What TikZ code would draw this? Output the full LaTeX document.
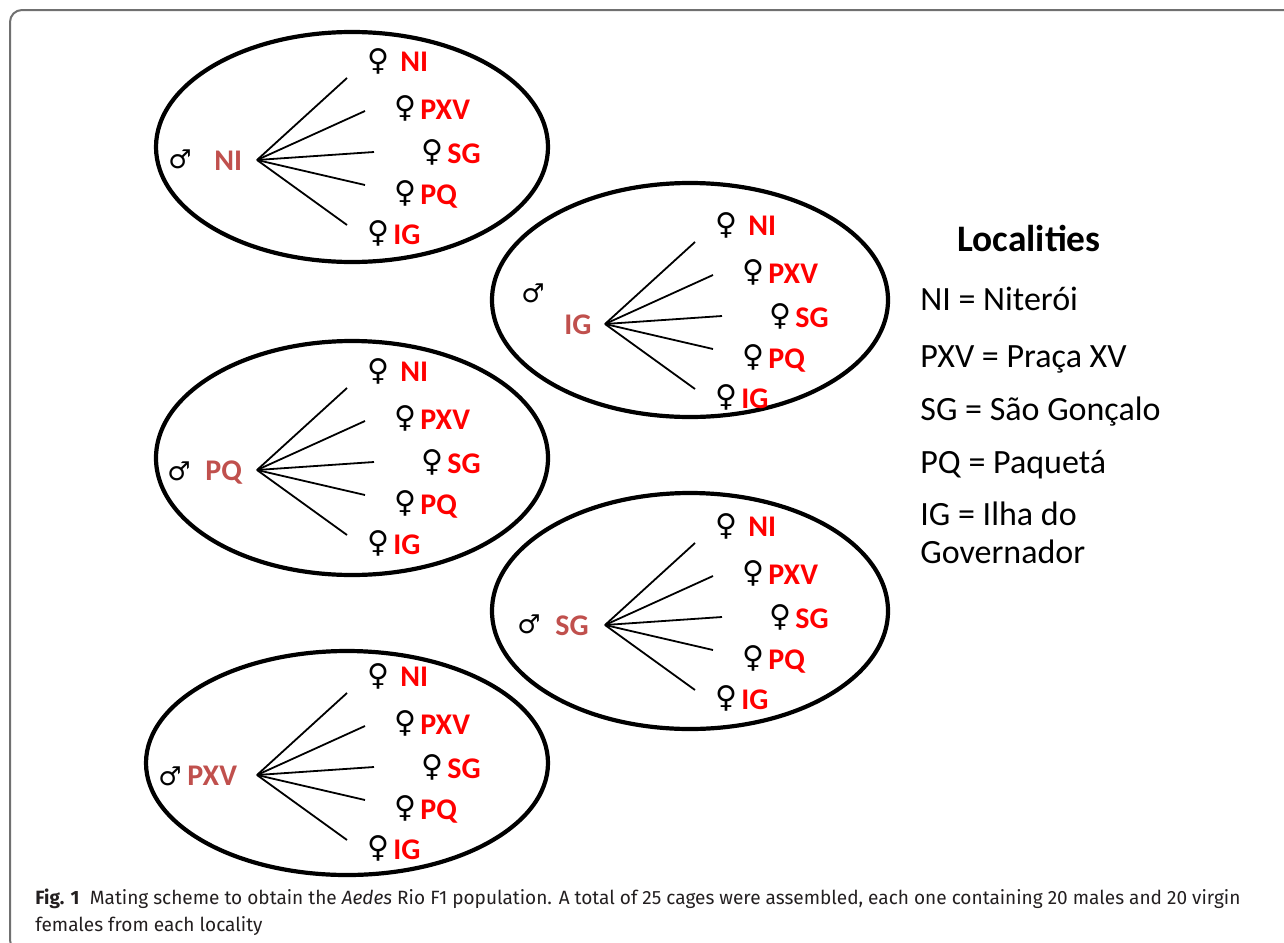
\documentclass[tikz,border=0pt]{standalone}
\usepackage{fontspec}
\setmainfont{Carlito}
\newfontfamily\symfont{DejaVu Sans}
\newfontfamily\capfont{Fira Sans}
\usetikzlibrary{shapes.geometric}
\definecolor{malered}{HTML}{C0504D}
\definecolor{femred}{HTML}{FF0000}
\definecolor{framegray}{HTML}{707070}
\definecolor{captext}{HTML}{231F20}
\tikzset{
  cage/.style={draw=black, line width=2.1pt, ellipse, inner sep=0pt, outer sep=0pt},
  fanline/.style={draw=black, line width=0.9pt},
  femsym/.style={inner sep=0pt, font=\symfont\fontsize{15}{15}\selectfont},
  malesym/.style={inner sep=0pt, font=\symfont\fontsize{13}{13}\selectfont},
  femtxt/.style={inner sep=0pt, anchor=base west, text=femred, font=\bfseries\fontsize{15}{15}\selectfont},
  maletxt/.style={inner sep=0pt, anchor=base west, text=malered, font=\bfseries\fontsize{15}{15}\selectfont},
  legtitle/.style={inner sep=0pt, anchor=base, font=\bfseries\fontsize{18.7}{18.7}\selectfont},
  legtxt/.style={inner sep=0pt, anchor=base west, font=\fontsize{17}{17}\selectfont},
  captxt/.style={inner sep=0pt, anchor=base west, text=captext, font=\capfont\fontsize{9.6}{9.6}\selectfont},
}
\newcommand\capfirstline{\textbf{Fig. 1}\hspace{0.55em}Mating scheme to obtain the \textit{Aedes} Rio F1 population. A total of 25 cages were assembled, each one containing 20 males and 20 virgin}
\newsavebox\capboxA
\newlength\capwd
\AtBeginDocument{%
  \sbox\capboxA{\capfont\fontsize{9.6}{9.6}\selectfont\capfirstline}%
  \setlength\capwd{\wd\capboxA}%
  \ifdim\capwd<10pt \setlength\capwd{602.5pt}\fi
  \pgfmathsetmacro\capratio{602.5/\capwd}%
}
\newcommand\cagefan[2]{%
  \begin{scope}[shift={#2}]
    \coordinate (#1h) at (0,0);
    \coordinate (#1e1) at (90,-82);
    \coordinate (#1e2) at (108,-49);
    \coordinate (#1e3) at (117,-8);
    \coordinate (#1e4) at (108,25);
    \coordinate (#1e5) at (90,65);
    \foreach \k in {1,...,5}{\draw[fanline] (#1h) -- (#1e\k);}
    \node[femsym] (#1f1) at (121,-99) {♀};
    \node[femsym] (#1f2) at (148,-52) {♀};
    \node[femsym] (#1f3) at (175,-8) {♀};
    \node[femsym] (#1f4) at (148,33) {♀};
    \node[femsym] (#1f5) at (121,73) {♀};
    \node[femtxt] (#1t1) at (143,-89) {NI};
    \node[femtxt] (#1t2) at (163,-41) {PXV};
    \node[femtxt] (#1t3) at (190,3) {SG};
    \node[femtxt] (#1t4) at (163,44) {PQ};
    \node[femtxt] (#1t5) at (136,84) {IG};
  \end{scope}}
\begin{document}
\begin{tikzpicture}[x=0.5pt,y=-0.5pt]
\useasboundingbox (0,0) rectangle (1284,942);
\begin{scope}
  \clip (0,0) rectangle (1284,942);
  \draw[framegray, line width=1pt, rounded corners=6pt] (10,10) rectangle (1310,952);
\end{scope}
% cages
\node[cage, minimum width=196pt, minimum height=115pt] (cNI) at (352,147) {};
\node[cage, minimum width=198pt, minimum height=117pt] (cIG) at (690,300) {};
\node[cage, minimum width=196pt, minimum height=117pt] (cPQ) at (352,458) {};
\node[cage, minimum width=198pt, minimum height=118pt] (cSG) at (690,611) {};
\node[cage, minimum width=201pt, minimum height=112pt] (cPXV) at (347,763) {};
% males
\node[malesym] (mNI) at (180,159) {♂};
\node[maletxt] (lNI) at (214,170) {NI};
\node[malesym] (mIG) at (533,293) {♂};
\node[maletxt] (lIG) at (564,334) {IG};
\node[malesym] (mPQ) at (179,471) {♂};
\node[maletxt] (lPQ) at (205,480) {PQ};
\node[malesym] (mSG) at (529,624) {♂};
\node[maletxt] (lSG) at (555,635) {SG};
\node[malesym] (mPXV) at (170,776) {♂};
\node[maletxt] (lPXV) at (187,785) {PXV};
% fans
\cagefan{a}{(257,160)}
\cagefan{b}{(605,324)}
\cagefan{c}{(257,470)}
\cagefan{d}{(605,625)}
\cagefan{e}{(257,775)}
% legend
\node[legtitle] (ltitle) at (1029,251) {Localities};
\node[legtxt] (l1) at (920,310) {NI = Niterói};
\node[legtxt] (l2) at (920,367) {PXV = Praça XV};
\node[legtxt] (l3) at (920,420) {SG = São Gonçalo};
\node[legtxt] (l4) at (920,473) {PQ = Paquetá};
\node[legtxt] (l5) at (920,525) {IG = Ilha do};
\node[legtxt] (l6) at (920,563) {Governador};
% caption
\node[captxt] (cap1) at (35,904) {\scalebox{\capratio}[1]{\capfirstline}};
\node[captxt] (cap2) at (35,931) {\scalebox{\capratio}[1]{females from each locality}};
\end{tikzpicture}
\end{document}
